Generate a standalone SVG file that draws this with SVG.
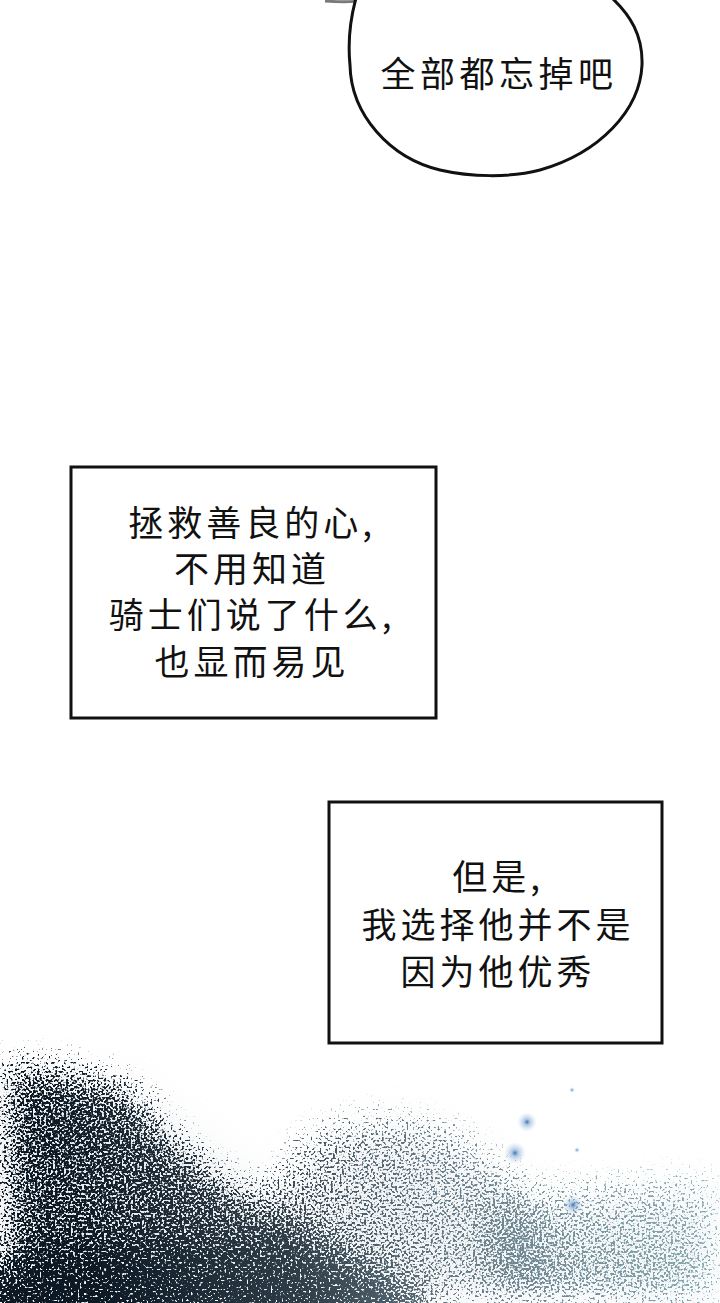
<svg xmlns="http://www.w3.org/2000/svg" width="720" height="1303" viewBox="0 0 720 1303">
<style>
.box{fill:#fff;stroke:#111;stroke-width:3}
.t{font-family:"Noto Sans CJK SC","Noto Sans CJK JP",sans-serif;font-size:35px;fill:#111;text-anchor:middle;letter-spacing:4px}
.ts{font-family:"Noto Sans CJK SC","Noto Sans CJK JP",serif;font-size:35px;fill:#111;text-anchor:middle;letter-spacing:4.5px}
</style>
<defs>
<filter id="stip" filterUnits="userSpaceOnUse" x="0" y="1000" width="720" height="303" color-interpolation-filters="sRGB">
<feGaussianBlur in="SourceAlpha" stdDeviation="20" result="d"/>
<feTurbulence type="fractalNoise" baseFrequency="0.45" numOctaves="1" seed="11" result="t"/>
<feColorMatrix in="t" type="matrix" values="0 0 0 0 0  0 0 0 0 0  0 0 0 0 0  2.2 0 0 0 -0.6" result="n"/>
<feComposite in="d" in2="n" operator="arithmetic" k1="0" k2="1" k3="-1" k4="0.45" result="c"/>
<feComponentTransfer in="c" result="th"><feFuncA type="linear" slope="5" intercept="-2.55"/></feComponentTransfer>
<feFlood flood-color="#fff"/>
<feComposite in2="th" operator="in"/>
</filter>
<filter id="soft" filterUnits="userSpaceOnUse" x="0" y="1000" width="720" height="303">
<feGaussianBlur stdDeviation="25"/>
</filter>
<mask id="m" maskUnits="userSpaceOnUse" x="0" y="1000" width="720" height="303">
<g filter="url(#stip)">
<polygon points="0,1052 50,1064 100,1072 140,1086 165,1125 215,1168 275,1210 340,1252 400,1290 410,1303 0,1303" fill="#000" fill-opacity="0.8"/>
<ellipse cx="170" cy="1318" rx="260" ry="70" fill="#000"/>
<polygon points="265,1180 305,1130 380,1110 450,1122 505,1162 545,1238 560,1303 275,1303" fill="#000" fill-opacity="0.52"/>
<polygon points="490,1190 560,1182 720,1175 720,1303 490,1303" fill="#000" fill-opacity="0.52"/>
<rect x="560" y="1255" width="160" height="48" fill="#000" fill-opacity="0.3"/>
</g>
</mask>
<linearGradient id="tone" gradientUnits="userSpaceOnUse" x1="100" y1="1303" x2="720" y2="1120">
<stop offset="0" stop-color="#0c1925"/>
<stop offset="0.3" stop-color="#2e3c47"/>
<stop offset="0.55" stop-color="#667c88"/>
<stop offset="1" stop-color="#92b2bc"/>
</linearGradient>
<radialGradient id="glow">
<stop offset="0" stop-color="#3f6fa8"/>
<stop offset="0.3" stop-color="#7ea6d2" stop-opacity="0.6"/>
<stop offset="1" stop-color="#b8d0ea" stop-opacity="0"/>
</radialGradient>
</defs>
<rect width="720" height="1303" fill="#fff"/>

<g id="texture">
<g filter="url(#soft)" opacity="0.3">
<polygon points="0,1080 120,1095 170,1135 280,1215 420,1303 0,1303" fill="#b7c3ca"/>
<polygon points="300,1160 400,1125 500,1170 560,1303 310,1303" fill="#d3dbdf"/>
<polygon points="520,1210 720,1190 720,1303 520,1303" fill="#d6e3e6"/>
</g>
<rect x="0" y="1000" width="720" height="303" fill="url(#tone)" mask="url(#m)"/>
<circle cx="527" cy="1122" r="10" fill="url(#glow)"/>
<circle cx="515" cy="1153" r="11" fill="url(#glow)"/>
<circle cx="573" cy="1205" r="10" fill="url(#glow)"/>
<circle cx="572" cy="1090" r="3" fill="url(#glow)"/>
<circle cx="577" cy="1150" r="3" fill="url(#glow)"/>
</g>

<path d="M325,1 Q348,3 372,0" fill="none" stroke="#7a7a7a" stroke-width="3"/>

<g id="bubble">
<path d="M356,-2 C350,20 348,45 350,65 C351,115 390,158 440,170 C470,177 510,178 540,170 C600,153 640,110 642,65 C643,35 630,15 612,-2" fill="#fff" stroke="#111" stroke-width="3"/>
<text class="ts" x="499" y="87">全部都忘掉吧</text>
</g>

<g id="box1">
<rect class="box" x="71" y="467" width="365" height="251"/>
<text class="t" x="252" y="536">拯救善良的心,</text>
<text class="t" x="252" y="582">不用知道</text>
<text class="t" x="252" y="628">骑士们说了什么,</text>
<text class="t" x="252" y="675">也显而易见</text>
</g>

<g id="box2">
<rect class="box" x="329" y="802" width="333" height="241"/>
<text class="t" x="498" y="890">但是,</text>
<text class="t" x="498" y="938">我选择他并不是</text>
<text class="t" x="498" y="985">因为他优秀</text>
</g>
</svg>
